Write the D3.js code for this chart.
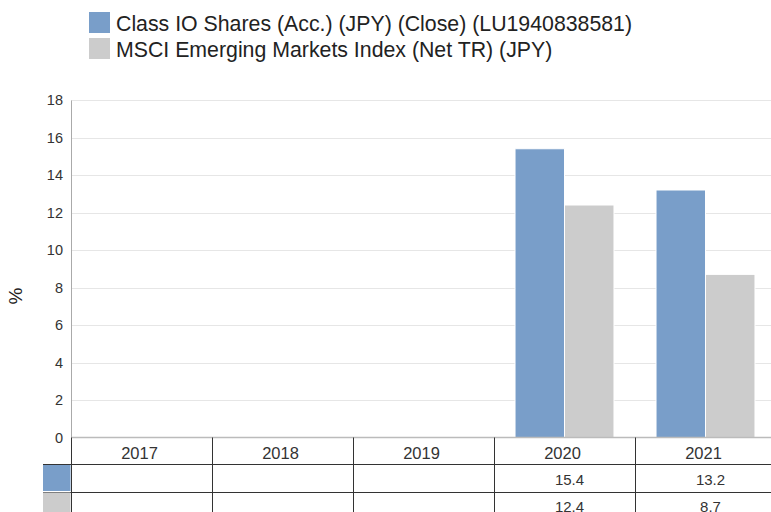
<!DOCTYPE html>
<html><head><meta charset="utf-8">
<script src="https://cdn.jsdelivr.net/npm/d3@7"></script>
<style>body{margin:0;background:#fff;}svg{display:block;font-family:"Liberation Sans",Arial,sans-serif;}</style>
</head><body><svg id="c" width="771" height="512"></svg>
<script>
const categories = ["2017","2018","2019","2020","2021"];
const seriesNames = ["Class IO Shares (Acc.) (JPY) (Close) (LU1940838581)","MSCI Emerging Markets Index (Net TR) (JPY)"];
const seriesColors = ["#799ec9","#cccccc"];
const fundValues = [null,null,null,15.4,13.2];
const indexValues = [null,null,null,12.4,8.7];
const yTicks = [0,2,4,6,8,10,12,14,16,18];

(function(){
const svg = d3.select("#c");
const pLeft = 71, pRight = 776, pTop = 100, pBottom = 437.5;
const x = d3.scaleBand().domain(categories).range([pLeft,pRight]);
const y = d3.scaleLinear().domain([0,18]).range([pBottom,pTop]);
const series = [fundValues, indexValues];
const inner = d3.scaleBand().domain([0,1]).range([0,x.bandwidth()]).paddingOuter(0.425).paddingInner(0);

// legend
seriesNames.forEach((n,i)=>{
  const g = svg.append("g").attr("transform",`translate(89,${12+i*26})`);
  g.append("rect").attr("width",21).attr("height",21).attr("fill",seriesColors[i]);
  g.append("text").attr("x",27).attr("y",19).attr("font-size",21.3).attr("fill","#222").text(n);
});

// grid
svg.append("g").selectAll("line").data(yTicks.filter(d=>d>0)).join("line")
  .attr("x1",pLeft).attr("x2",pRight).attr("y1",d=>Math.round(y(d))+0.5).attr("y2",d=>Math.round(y(d))+0.5)
  .attr("stroke","#e6e6e6");

// y axis
const ya = svg.append("g").attr("transform",`translate(${pLeft},0)`).call(d3.axisLeft(y).tickValues(yTicks).tickSize(0).tickPadding(8));
ya.select(".domain").attr("stroke","#aaaaaa");
ya.selectAll("text").attr("font-size",14.5).attr("fill","#333").attr("font-family","Liberation Sans, Arial, sans-serif");
svg.append("text").attr("transform","translate(22,296) rotate(-90)").attr("text-anchor","middle")
  .attr("font-size",19).attr("fill","#222").text("%");

// bars
series.forEach((vals,si)=>{
  svg.append("g").selectAll("rect").data(categories.map((c,i)=>({c,v:vals[i]})).filter(d=>d.v!=null)).join("rect")
    .attr("x",d=>x(d.c)+inner(si)).attr("width",inner.bandwidth())
    .attr("y",d=>y(d.v)).attr("height",d=>y(0)-y(d.v))
    .attr("fill",seriesColors[si]).attr("stroke","#fff").attr("stroke-width",1);
});

// zero line
svg.append("line").attr("x1",pLeft).attr("x2",pRight).attr("y1",pBottom).attr("y2",pBottom).attr("stroke","#bbbbbb").attr("stroke-width",1.5);

// table
const rows = [pBottom, pBottom+26.5, pBottom+54];
const tg = svg.append("g");
[rows[1], rows[2]].forEach(yy=>{
  tg.append("line").attr("x1",43).attr("x2",pRight).attr("y1",Math.round(yy)+0.5).attr("y2",Math.round(yy)+0.5).attr("stroke","#333");
});
categories.forEach(c=>{
  tg.append("line").attr("x1",Math.round(x(c))+0.5).attr("x2",Math.round(x(c))+0.5).attr("y1",pBottom).attr("y2",512).attr("stroke","#333");
});
series.forEach((s,si)=>{
  tg.append("rect").attr("x",43).attr("y",rows[si+1]+1).attr("width",27.5).attr("height",26).attr("fill",seriesColors[si]);
});
tg.selectAll("text.h").data(categories).join("text").attr("class","h")
  .attr("x",d=>x(d)+x.bandwidth()/2-2).attr("y",pBottom+21).attr("text-anchor","middle")
  .attr("font-size",16.5).attr("fill","#333").text(d=>d);
series.forEach((vals,si)=>{
  tg.append("g").selectAll("text").data(categories.map((c,i)=>({c,v:vals[i]})).filter(d=>d.v!=null)).join("text")
    .attr("x",d=>x(d.c)+x.bandwidth()/2+5).attr("y",rows[si+1]+20.5).attr("text-anchor","middle")
    .attr("font-size",15).attr("fill","#333").text(d=>d3.format(".1f")(d.v));
});
})();
</script></body></html>
